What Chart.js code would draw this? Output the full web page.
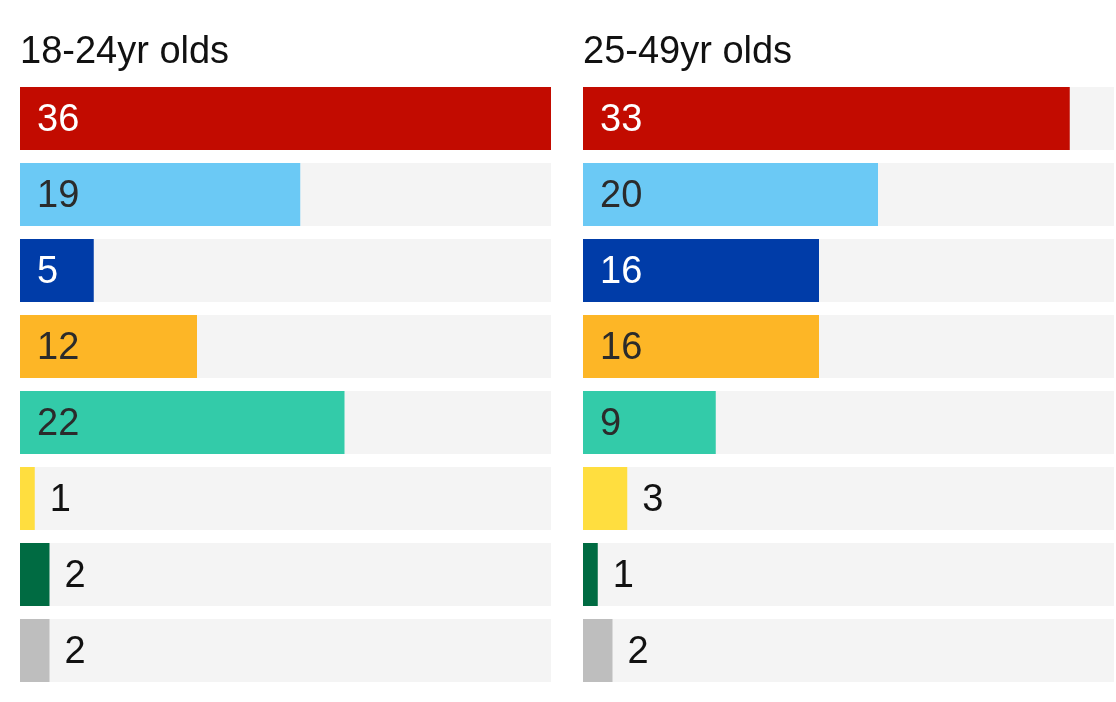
<!doctype html>
<html lang="en">
  <head>
    <meta charset="UTF-8" />
    <title>Vote share by age group</title>
    <script src="https://cdn.jsdelivr.net/npm/chart.js"></script>
    <style>
      body,
      html {
        margin: 0;
        padding: 0;
        background: #ffffff;
        width: 1116px;
        height: 702px;
        overflow: hidden;
      }
      .panel {
        position: absolute;
        top: 0;
        width: 533px;
        height: 702px;
      }
      #leftPanel {
        left: 20px;
      }
      #rightPanel {
        left: 583px;
      }
    </style>
  </head>
  <body>
    <div class="panel" id="leftPanel"><canvas id="chartYoung"></canvas></div>
    <div class="panel" id="rightPanel"><canvas id="chartMid"></canvas></div>

    <script>
      // Data
      const categories = ["Red", "Light blue", "Dark blue", "Orange", "Teal", "Yellow", "Dark green", "Grey"];
      const young = [36, 19, 5, 12, 22, 1, 2, 2];
      const middle = [33, 20, 16, 16, 9, 3, 1, 2];
      const titles = ["18-24yr olds", "25-49yr olds"];
      const scaleMax = 36;

      const barColors = ["#c20b00", "#6bc9f5", "#003ca8", "#fdb626", "#33cba9", "#ffde3f", "#006b42", "#bebebe"];
      const insideText = ["#ffffff", "#2b2b2b", "#ffffff", "#2b2b2b", "#2b2b2b", "#111111", "#111111", "#111111"];
      const FONT = "'Liberation Sans', Arial, sans-serif";

      // draws the numbers inside or just after each bar
      const valueLabels = {
        id: "valueLabels",
        afterDatasetsDraw(chart) {
          const ctx = chart.ctx;
          const meta = chart.getDatasetMeta(1);
          const values = chart.data.datasets[1].data;
          ctx.save();
          ctx.font = "38px " + FONT;
          ctx.textBaseline = "middle";
          ctx.textAlign = "left";
          meta.data.forEach((bar, i) => {
            const txt = String(values[i]);
            const w = ctx.measureText(txt).width;
            const start = Math.min(bar.base, bar.x);
            const end = Math.max(bar.base, bar.x);
            if (end - start > w + 30) {
              ctx.fillStyle = insideText[i];
              ctx.fillText(txt, start + 17, bar.y + 2);
            } else {
              ctx.fillStyle = "#111111";
              ctx.fillText(txt, end + 15, bar.y + 2);
            }
          });
          ctx.restore();
        },
      };

      function makeChart(id, values, title) {
        new Chart(document.getElementById(id), {
          type: "bar",
          data: {
            labels: categories,
            datasets: [
              {
                // light grey track behind every bar
                data: categories.map(() => scaleMax),
                backgroundColor: "#f4f4f4",
                grouped: false,
                order: 2,
                categoryPercentage: 1,
                barPercentage: 63 / 76,
              },
              {
                data: values,
                backgroundColor: barColors,
                grouped: false,
                order: 1,
                categoryPercentage: 1,
                barPercentage: 63 / 76,
              },
            ],
          },
          options: {
            indexAxis: "y",
            responsive: true,
            maintainAspectRatio: false,
            animation: false,
            layout: { padding: { left: 0, right: 2, top: 0, bottom: 13.5 } },
            scales: {
              x: { min: 0, max: scaleMax, display: false },
              y: { display: false },
            },
            plugins: {
              legend: { display: false },
              tooltip: { enabled: false },
              title: {
                display: true,
                text: title,
                align: "start",
                color: "#111111",
                font: { family: FONT, size: 38, weight: "normal", lineHeight: 1.2 },
                padding: { top: 30, bottom: 4.9 },
              },
            },
          },
          plugins: [valueLabels],
        });
      }

      makeChart("chartYoung", young, titles[0]);
      makeChart("chartMid", middle, titles[1]);
    </script>
  </body>
</html>
